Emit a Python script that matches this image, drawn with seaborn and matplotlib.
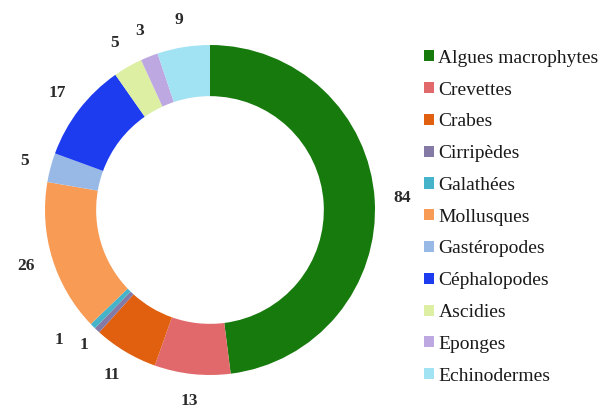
import numpy as np
import matplotlib
matplotlib.use("Agg")
import matplotlib.pyplot as plt
import seaborn as sns
from matplotlib.patches import Patch

categories = ["Algues macrophytes", "Crevettes", "Crabes", "Cirripèdes", "Galathées",
              "Mollusques", "Gastéropodes", "Céphalopodes", "Ascidies", "Eponges", "Echinodermes"]
values = [84, 13, 11, 1, 1, 26, 5, 17, 5, 3, 9]
colors = ["#167a0c", "#e2696b", "#e0600f", "#857aa6", "#45b3c9", "#f89b55",
          "#98b9e6", "#1d3cf0", "#dcefa2", "#bea8e2", "#a2e3f3"]

sns.set_theme(style="white")
plt.rcParams['font.family'] = ['Liberation Serif', 'DejaVu Serif']

W, H = 603, 411
fig = plt.figure(figsize=(W / 100, H / 100), dpi=100)
R = 165.0
cx, cy = 210.0, H - 210.0
lim = 1.2
ax = fig.add_axes([(cx - lim * R) / W, (cy - lim * R) / H, 2 * lim * R / W, 2 * lim * R / H])

wedges, _ = ax.pie(values, colors=colors, startangle=90, counterclock=False, radius=1.0,
                   wedgeprops=dict(width=0.31, edgecolor="none"))
ax.set_xlim(-lim, lim)
ax.set_ylim(-lim, lim)
ax.set_aspect("equal")
ax.axis("off")

# data labels
nudge = {3: (0.0, 1.12), 4: (-4.0, 1.21)}
for i, w in enumerate(wedges):
    ang = (w.theta1 + w.theta2) / 2.0
    d_ang, rr = nudge.get(i, (0.0, 1.165))
    a = np.deg2rad(ang + d_ang)
    ax.text(rr * np.cos(a), rr * np.sin(a), str(values[i]), ha="center", va="center",
            fontsize=12.5, fontweight="bold", color="#2a2a2a")

handles = [Patch(facecolor=c, edgecolor="none") for c in colors]
fig.legend(handles, categories, loc="upper left", bbox_to_anchor=(416 / W, 1 - 42 / H),
           frameon=False, fontsize=14, handlelength=0.5, handleheight=0.5,
           handletextpad=0.25, labelspacing=0.76, borderaxespad=0, labelcolor="#1a1a1a")

fig.savefig("out.png", dpi=100)
